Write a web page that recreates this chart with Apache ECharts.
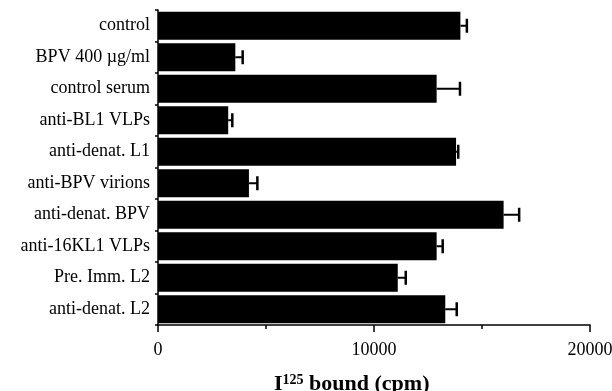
<!DOCTYPE html>
<html>
<head>
<meta charset="utf-8">
<script src="https://cdn.jsdelivr.net/npm/echarts@6/dist/echarts.min.js"></script>
<style>html,body{margin:0;padding:0;background:#fff}#c{width:612px;height:391px}</style>
</head>
<body>
<div id="c"></div>
<script>
var categories = ["control","BPV 400 \u00b5g/ml","control serum","anti-BL1 VLPs","anti-denat. L1","anti-BPV virions","anti-denat. BPV","anti-16KL1 VLPs","Pre. Imm. L2","anti-denat. L2"];
var values = [14000, 3580, 12900, 3250, 13800, 4210, 16000, 12900, 11100, 13300];
var errors = [300, 340, 1080, 190, 100, 390, 720, 280, 370, 530];
var xTicks = [0, 10000, 20000];

var chart = echarts.init(document.getElementById('c'));
var font = '"Liberation Serif", "Times New Roman", serif';
var errData = values.map(function(v, i){ return [i, v, v + errors[i]]; });

chart.setOption({
  animation: false,
  backgroundColor: '#fff',
  grid: {left: 158, right: 22, top: 10, bottom: 66, outerBoundsMode: 'none'},
  xAxis: {
    type: 'value', min: xTicks[0], max: xTicks[xTicks.length-1], interval: 10000,
    axisLine: {show: true, lineStyle: {color: '#000', width: 1.5}},
    axisTick: {show: true, length: 7, lineStyle: {color: '#000', width: 1.5}},
    minorTick: {show: true, splitNumber: 2, length: 4, lineStyle: {color: '#000', width: 1.5}},
    splitLine: {show: false},
    axisLabel: {color: '#000', fontFamily: font, fontSize: 18, margin: 16,
      formatter: function(v){ return String(v); }}
  },
  yAxis: {
    type: 'category', data: categories, inverse: true,
    axisLine: {show: true, lineStyle: {color: '#000', width: 1.5}},
    axisTick: {show: true, length: 3, lineStyle: {color: '#000', width: 1.5}},
    axisLabel: {color: '#000', fontFamily: font, fontSize: 18, margin: 8}
  },
  graphic: [{
    type: 'text', left: 274, top: 373,
    style: {
      text: '{b|I}{s|125}{b| bound (cpm)}',
      rich: {
        b: {fontFamily: font, fontWeight: 'bold', fontSize: 22, fill: '#000', verticalAlign: 'bottom'},
        s: {fontFamily: font, fontWeight: 'bold', fontSize: 14, fill: '#000', verticalAlign: 'top', padding: [0,0,7,0]}
      }
    }
  }],
  series: [{
    type: 'bar', data: values, barCategoryGap: '11%',
    itemStyle: {color: '#000'}
  }, {
    type: 'custom', data: errData,
    renderItem: function(params, api){
      var a = api.coord([api.value(1), api.value(0)]);
      var b = api.coord([api.value(2), api.value(0)]);
      var h = 7;
      return {type: 'group', children: [
        {type: 'line', shape: {x1: a[0], y1: a[1], x2: b[0], y2: b[1]}, style: {stroke: '#000', lineWidth: 2}},
        {type: 'line', shape: {x1: b[0], y1: b[1]-h, x2: b[0], y2: b[1]+h}, style: {stroke: '#000', lineWidth: 2.5}}
      ]};
    },
    z: 3
  }]
});
</script>
</body>
</html>
